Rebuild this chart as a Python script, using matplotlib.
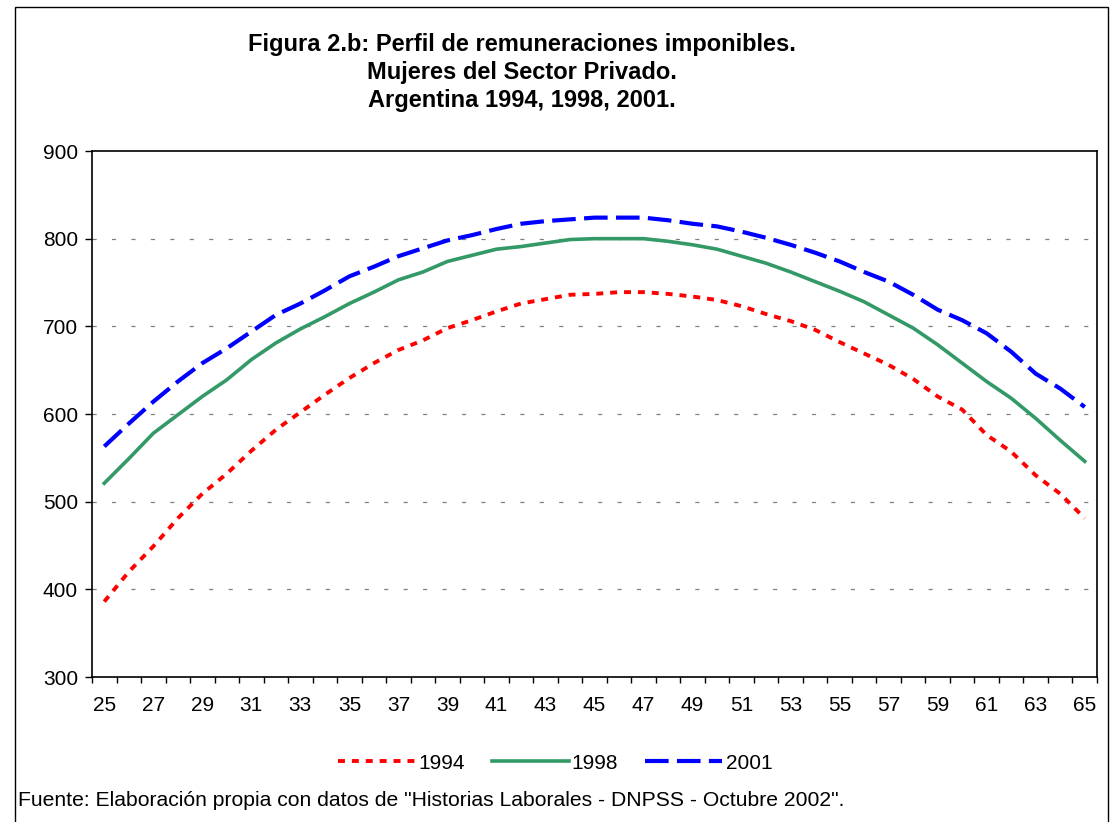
import matplotlib
matplotlib.use("Agg")
import matplotlib.pyplot as plt
from matplotlib.patches import Rectangle

plt.rcParams['font.family'] = ['Liberation Sans', 'DejaVu Sans']
plt.rcParams['lines.scale_dashes'] = False

# edades (eje x)
ages = list(range(25, 66))

# remuneraciones imponibles
v1994 = [386, 420, 449, 481, 509, 532, 558, 582, 602, 622, 641, 658, 673, 684, 698, 707,
         717, 726, 731, 736, 737, 739, 739, 737, 734, 730, 723, 714, 706, 696, 682, 669,
         656, 640, 620, 605, 576, 557, 530, 509, 481]
v1998 = [521, 549, 578, 599, 620, 639, 662, 681, 697, 711, 726, 739, 753, 762, 774, 781,
         788, 791, 795, 799, 800, 800, 800, 797, 793, 788, 780, 772, 762, 751, 740, 728,
         713, 698, 679, 658, 637, 618, 595, 570, 546]
v2001 = [563, 589, 614, 637, 658, 675, 694, 713, 726, 741, 757, 768, 780, 789, 798, 804,
         811, 817, 820, 822, 824, 824, 824, 821, 817, 814, 808, 801, 793, 784, 774, 762,
         751, 736, 719, 707, 692, 671, 646, 629, 608]

labels = ['1994', '1998', '2001']
yticks = [300, 400, 500, 600, 700, 800, 900]

W, H = 1112, 822
fig = plt.figure(figsize=(W / 100, H / 100), dpi=100)
ax = fig.add_axes([92 / W, 1 - 677 / H, (1097 - 92) / W, (677 - 151) / H])

ax.plot(ages, v1994, color='#FF0000', lw=2.8, linestyle=(0, (5, 5)), label=labels[0])
ax.plot(ages, v1998, color='#339966', lw=2.6, linestyle='-', label=labels[1])
ax.plot(ages, v2001, color='#0000FF', lw=3.0, linestyle=(0, (17, 6)), label=labels[2])

ax.set_xlim(24.5, 65.5)
ax.set_ylim(300, 900)
ax.set_yticks(yticks)
ax.set_xticks(ages[::2])
ax.set_xticks([a - 0.5 for a in ages] + [65.5], minor=True)
ax.tick_params(axis='x', which='major', length=0, pad=14, labelsize=15)
ax.tick_params(axis='x', which='minor', length=4, width=1, direction='out')
ax.tick_params(axis='y', length=5, width=1, direction='out', pad=5, labelsize=15)

for v in yticks[1:-1]:
    ax.axhline(v, color='#808080', lw=0.9, linestyle=(0, (3, 11)), zorder=0)

for s in ax.spines.values():
    s.set_linewidth(1.2)

fig.text(522 / W, 1 - 45 / H, 'Figura 2.b: Perfil de remuneraciones imponibles.',
         ha='center', va='center', fontsize=17, fontweight='bold')
fig.text(522 / W, 1 - 73 / H, 'Mujeres del Sector Privado.',
         ha='center', va='center', fontsize=17, fontweight='bold')
fig.text(522 / W, 1 - 101 / H, 'Argentina 1994, 1998, 2001.',
         ha='center', va='center', fontsize=17, fontweight='bold')

fig.legend(loc='center', bbox_to_anchor=(555 / W, 1 - 763 / H), ncol=3, frameon=False,
           fontsize=15, handlelength=3.7, handletextpad=0.15, columnspacing=1.3)

fig.text(18 / W, 1 - 800 / H,
         'Fuente: Elaboración propia con datos de "Historias Laborales - DNPSS - Octubre 2002".',
         ha='left', va='center', fontsize=15.2)

fig.add_artist(Rectangle((15 / W, -0.01), (1108 - 15) / W, 1.01 - 7 / H,
                         transform=fig.transFigure, fill=False, lw=1.0, ec='black'))

fig.savefig('out.png', dpi=100)
